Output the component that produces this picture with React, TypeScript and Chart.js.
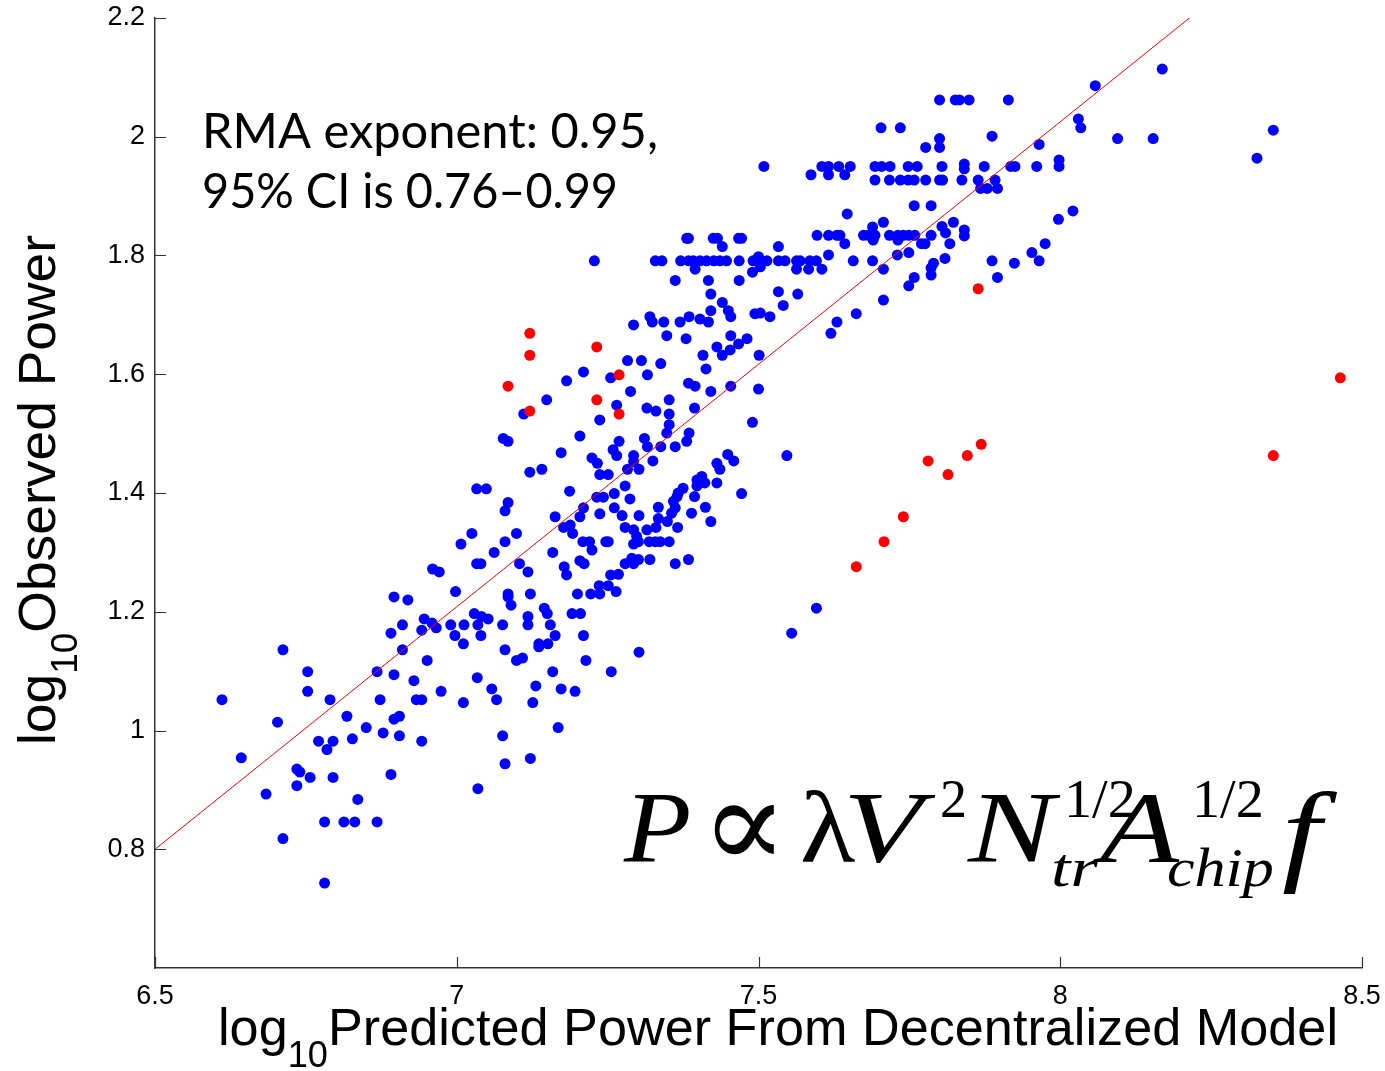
import React, { useEffect, useRef } from 'react';
import { Chart, registerables } from 'chart.js';

Chart.register(...registerables);

// ---- axis ticks ----
const xTicks = [6.5, 7, 7.5, 8, 8.5];
const xTickLabels = ['6.5', '7', '7.5', '8', '8.5'];
const yTicks = [0.8, 1, 1.2, 1.4, 1.6, 1.8, 2, 2.2];
const yTickLabels = ['0.8', '1', '1.2', '1.4', '1.6', '1.8', '2', '2.2'];

// ---- RMA fit line (endpoints) ----
const fitX = [6.5, 8.214];
const fitY = [0.8, 2.2];

// ---- red (outlier) chips ----
const redPoints: [number, number][] = [
  [7.121, 1.669], [7.121, 1.632], [7.085, 1.58], [7.121, 1.538], [7.232, 1.646], [7.269, 1.599],
  [7.232, 1.557], [7.269, 1.533], [7.864, 1.744], [8.464, 1.594], [8.353, 1.463], [7.869, 1.482],
  [7.846, 1.463], [7.781, 1.454], [7.814, 1.431], [7.74, 1.36], [7.708, 1.318], [7.662, 1.276],
];

// ---- blue chips, grouped by region ----
const blueLow: [number, number][] = [
  [6.611, 1.052], [6.712, 1.136], [6.753, 1.099], [6.753, 1.066], [6.703, 1.014], [6.643, 0.954],
  [6.684, 0.893], [6.712, 0.818], [6.781, 0.743], [6.735, 0.935], [6.74, 0.93], [6.757, 0.921],
  [6.735, 0.907], [6.771, 0.982], [6.795, 0.982], [6.785, 0.968], [6.79, 1.052], [6.818, 1.024],
  [6.827, 0.986], [6.795, 0.921], [6.836, 0.884], [6.781, 0.846], [6.813, 0.846], [6.831, 0.846],
  [6.868, 0.846], [6.85, 1.005], [6.873, 1.052], [6.868, 1.099], [6.891, 1.164], [6.91, 1.178],
  [6.91, 1.136], [6.896, 1.094], [6.929, 1.084], [6.933, 1.052], [6.942, 1.052], [6.896, 1.019],
  [6.905, 1.024], [6.878, 0.996], [6.905, 0.991], [6.942, 0.982], [6.891, 0.926], [6.951, 1.118],
  [6.974, 1.066], [6.942, 1.169], [6.959, 1.181], [6.966, 1.173], [6.99, 1.178], [6.997, 1.16],
];

const blueMidLow: [number, number][] = [
  [7.077, 1.492], [7.085, 1.487], [7.204, 1.496], [7.237, 1.523], [7.173, 1.468], [7.121, 1.435],
  [7.141, 1.44], [7.224, 1.459], [7.233, 1.45], [7.237, 1.431], [7.251, 1.431], [7.259, 1.473],
  [7.269, 1.487], [7.033, 1.407], [7.049, 1.407], [7.085, 1.384], [7.08, 1.37], [7.187, 1.403],
  [7.232, 1.393], [7.243, 1.393], [7.261, 1.399], [7.21, 1.375], [7.204, 1.36], [7.237, 1.365],
  [7.261, 1.375], [7.163, 1.36], [7.177, 1.342], [7.188, 1.346], [7.192, 1.332], [7.025, 1.332],
  [7.007, 1.314], [7.08, 1.318], [7.099, 1.332], [7.062, 1.3], [7.033, 1.281], [7.04, 1.281],
  [7.104, 1.281], [7.118, 1.267], [7.159, 1.3], [7.209, 1.318], [7.22, 1.318], [7.224, 1.304],
  [7.247, 1.318], [7.251, 1.318], [7.204, 1.286], [7.211, 1.281], [7.178, 1.276], [7.182, 1.262],
  [7.255, 1.262], [7.268, 1.263], [6.96, 1.272], [6.971, 1.267], [6.998, 1.234], [6.896, 1.225],
  [6.919, 1.22], [7.085, 1.23], [7.085, 1.225], [7.09, 1.211], [7.122, 1.23], [7.2, 1.23],
  [7.222, 1.23], [7.237, 1.23], [7.236, 1.244], [7.251, 1.244], [7.264, 1.234], [7.145, 1.206],
  [7.15, 1.197], [7.191, 1.197], [7.205, 1.197], [7.118, 1.192], [7.118, 1.178], [7.029, 1.197],
  [7.041, 1.192], [7.052, 1.188], [7.035, 1.178], [7.076, 1.178], [7.155, 1.178], [6.946, 1.188],
  [7.012, 1.178], [7.011, 1.146], [7.04, 1.16], [7.163, 1.16], [7.21, 1.16], [7.136, 1.146],
  [7.136, 1.141], [7.151, 1.146], [7.08, 1.136], [7.099, 1.118], [7.109, 1.122], [7.214, 1.118],
  [7.034, 1.089], [7.159, 1.099], [7.256, 1.099], [7.058, 1.07], [7.131, 1.075], [7.173, 1.07],
  [7.196, 1.066], [7.011, 1.047], [7.066, 1.052], [7.126, 1.047],
  [7.279, 1.281], [7.293, 1.281], [7.301, 1.288], [7.32, 1.288], [7.362, 1.281], [7.384, 1.288],
  [7.302, 1.132], [7.168, 1.005], [7.076, 0.991], [7.08, 0.944], [7.122, 0.953], [7.035, 0.902],
  [7.29, 1.29],
];

const blueMid: [number, number][] = [
  [7.265, 1.548], [7.315, 1.543], [7.33, 1.538], [7.352, 1.557], [7.352, 1.533], [7.352, 1.515],
  [7.394, 1.543], [7.49, 1.519], [7.547, 1.463], [7.265, 1.463], [7.311, 1.492], [7.316, 1.478],
  [7.348, 1.501], [7.338, 1.478], [7.362, 1.478], [7.385, 1.501], [7.381, 1.487], [7.293, 1.463],
  [7.293, 1.453], [7.283, 1.44], [7.302, 1.44], [7.325, 1.454], [7.279, 1.412], [7.287, 1.39],
  [7.274, 1.362], [7.302, 1.362], [7.334, 1.376], [7.334, 1.357], [7.349, 1.352], [7.33, 1.342],
  [7.315, 1.338], [7.279, 1.342], [7.293, 1.338], [7.298, 1.327], [7.301, 1.318], [7.293, 1.314],
  [7.319, 1.318], [7.329, 1.318], [7.337, 1.318], [7.352, 1.318], [7.366, 1.342], [7.356, 1.366],
  [7.362, 1.375], [7.359, 1.386], [7.365, 1.394], [7.367, 1.4], [7.375, 1.408], [7.394, 1.394],
  [7.389, 1.366], [7.412, 1.376], [7.421, 1.352], [7.398, 1.422], [7.406, 1.428], [7.411, 1.417],
  [7.398, 1.412], [7.431, 1.45], [7.436, 1.44], [7.431, 1.417], [7.449, 1.465], [7.459, 1.454],
  [7.472, 1.399],
];

const blueMidHigh: [number, number][] = [
  [7.228, 1.791], [7.381, 1.829], [7.384, 1.829], [7.425, 1.829], [7.432, 1.829], [7.44, 1.815],
  [7.467, 1.829], [7.472, 1.829],
  [7.329, 1.791], [7.34, 1.791], [7.371, 1.791], [7.384, 1.791], [7.392, 1.791], [7.403, 1.791],
  [7.414, 1.791], [7.426, 1.791], [7.436, 1.791], [7.447, 1.791], [7.468, 1.791], [7.491, 1.791],
  [7.503, 1.791], [7.514, 1.791], [7.533, 1.791], [7.544, 1.791], [7.563, 1.791], [7.569, 1.791],
  [7.585, 1.791], [7.596, 1.791],
  [7.5, 1.798], [7.395, 1.777], [7.49, 1.772], [7.503, 1.781], [7.362, 1.758], [7.417, 1.758],
  [7.468, 1.758], [7.421, 1.735], [7.44, 1.721], [7.45, 1.707], [7.454, 1.697], [7.421, 1.707],
  [7.494, 1.702], [7.32, 1.697], [7.324, 1.688], [7.343, 1.688], [7.293, 1.683], [7.37, 1.688],
  [7.385, 1.697], [7.403, 1.693], [7.417, 1.688], [7.348, 1.665], [7.38, 1.66], [7.454, 1.665],
  [7.481, 1.66], [7.467, 1.651], [7.453, 1.641], [7.44, 1.632], [7.431, 1.646], [7.408, 1.632],
  [7.413, 1.609], [7.501, 1.632], [7.283, 1.623], [7.306, 1.623], [7.338, 1.618], [7.316, 1.599],
  [7.255, 1.594], [7.21, 1.604], [7.182, 1.589], [7.149, 1.557], [7.111, 1.533], [7.288, 1.571],
  [7.384, 1.585], [7.395, 1.58], [7.421, 1.571], [7.454, 1.58], [7.5, 1.575],
];

const blueHigh: [number, number][] = [
  [7.8, 2.062], [7.826, 2.062], [7.833, 2.062], [7.849, 2.062], [7.914, 2.062], [7.703, 2.015],
  [7.735, 2.015], [7.887, 2.001], [7.8, 1.997], [7.8, 1.982], [7.777, 1.982], [7.965, 1.987],
  [7.509, 1.95], [7.605, 1.95], [7.616, 1.95], [7.633, 1.95], [7.652, 1.95], [7.693, 1.95],
  [7.704, 1.95], [7.718, 1.95], [7.748, 1.95], [7.763, 1.95], [7.804, 1.95], [7.841, 1.954],
  [7.841, 1.946], [7.874, 1.95], [7.918, 1.95], [7.925, 1.95], [7.961, 1.95], [7.998, 1.961],
  [7.998, 1.95],
  [7.587, 1.936], [7.616, 1.936], [7.643, 1.936],
  [7.693, 1.927], [7.717, 1.927], [7.735, 1.927], [7.748, 1.927], [7.758, 1.927], [7.777, 1.927],
  [7.8, 1.927], [7.805, 1.927], [7.837, 1.927], [7.864, 1.927], [7.892, 1.927],
  [7.868, 1.913], [7.879, 1.913], [7.896, 1.913], [7.758, 1.884], [7.786, 1.884], [7.647, 1.87],
  [7.997, 1.861], [7.707, 1.856], [7.689, 1.848], [7.823, 1.856], [7.804, 1.849], [7.81, 1.838],
  [7.841, 1.843], [7.841, 1.833],
  [7.597, 1.834], [7.616, 1.834], [7.63, 1.834], [7.635, 1.834], [7.674, 1.834], [7.682, 1.834],
  [7.693, 1.834], [7.717, 1.834], [7.731, 1.834], [7.74, 1.834], [7.749, 1.834], [7.759, 1.834],
  [7.786, 1.834],
  [7.643, 1.82], [7.69, 1.826], [7.731, 1.826], [7.77, 1.82], [7.776, 1.82], [7.817, 1.82],
  [7.975, 1.82], [7.953, 1.805], [7.965, 1.791], [7.533, 1.815], [7.563, 1.777], [7.583, 1.777],
  [7.605, 1.777], [7.616, 1.801], [7.657, 1.791], [7.689, 1.791], [7.707, 1.777], [7.73, 1.801],
  [7.749, 1.805], [7.79, 1.787], [7.786, 1.779], [7.786, 1.767], [7.809, 1.795], [7.887, 1.791],
  [7.924, 1.787], [7.896, 1.763], [7.758, 1.763], [7.749, 1.749], [7.533, 1.739], [7.565, 1.735],
  [7.541, 1.716], [7.707, 1.725], [7.662, 1.702], [8.169, 2.114], [8.058, 2.086], [8.03, 2.03],
  [8.034, 2.015], [8.095, 1.997], [8.154, 1.997], [8.353, 2.011], [8.326, 1.964], [8.021, 1.875],
  [7.503, 1.703], [7.519, 1.697], [7.63, 1.688], [7.62, 1.669], [7.596, 1.206], [7.555, 1.164],
];

const bluePoints = [...blueLow, ...blueMidLow, ...blueMid, ...blueMidHigh, ...blueHigh];

type Seg = { text: string; font: string; dy: number };

function drawSegs(ctx: CanvasRenderingContext2D, segs: Seg[], x: number, y: number, targetWidth: number) {
  let total = 0;
  const widths = segs.map((s) => {
    ctx.font = s.font;
    const w = ctx.measureText(s.text).width;
    total += w;
    return w;
  });
  const k = targetWidth / total;
  ctx.save();
  ctx.translate(x, y);
  ctx.scale(k, 1);
  let cx = 0;
  segs.forEach((s, i) => {
    ctx.font = s.font;
    ctx.fillText(s.text, cx, s.dy);
    cx += widths[i];
  });
  ctx.restore();
}

const SANS = '"Liberation Sans", Arial, sans-serif';
const SERIF = '"Liberation Serif", "DejaVu Serif", serif';

const overlayPlugin = {
  id: 'overlay',
  afterDraw(chart: any) {
    const { ctx, chartArea, scales } = chart;
    const xs = scales.x;
    const ys = scales.y;
    ctx.save();
    // inward tick marks
    ctx.strokeStyle = '#333';
    ctx.lineWidth = 1.2;
    ctx.beginPath();
    xTicks.forEach((v) => {
      const px = Math.round(xs.getPixelForValue(v)) + 0.5;
      ctx.moveTo(px, chartArea.bottom);
      ctx.lineTo(px, chartArea.bottom - 11);
    });
    yTicks.forEach((v) => {
      const py = Math.round(ys.getPixelForValue(v)) + 0.5;
      ctx.moveTo(chartArea.left, py);
      ctx.lineTo(chartArea.left + 11, py);
    });
    ctx.stroke();

    ctx.fillStyle = '#000';
    ctx.textAlign = 'left';
    ctx.textBaseline = 'alphabetic';

    // x title
    drawSegs(
      ctx,
      [
        { text: 'log', font: `52px ${SANS}`, dy: 0 },
        { text: '10', font: `36px ${SANS}`, dy: 22 },
        { text: 'Predicted Power From Decentralized Model', font: `52px ${SANS}`, dy: 0 },
      ],
      218,
      1045,
      1120
    );

    // y title (rotated)
    ctx.save();
    ctx.translate(55, 745);
    ctx.rotate(-Math.PI / 2);
    drawSegs(
      ctx,
      [
        { text: 'log', font: `52px ${SANS}`, dy: 0 },
        { text: '10', font: `36px ${SANS}`, dy: 22 },
        { text: 'Observed Power', font: `52px ${SANS}`, dy: 0 },
      ],
      0,
      0,
      510
    );
    ctx.restore();

    // annotation
    drawSegs(ctx, [{ text: 'RMA exponent: 0.95,', font: `48px Lato, "Open Sans", sans-serif`, dy: 0 }], 202, 148, 456);
    drawSegs(ctx, [{ text: '95% CI is 0.76\u20130.99', font: `48px Lato, "Open Sans", sans-serif`, dy: 0 }], 202, 208, 416);

    // formula
    const bigI = `italic 102px ${SERIF}`;
    const bigR = `102px ${SERIF}`;
    const smI = `italic 54px ${SERIF}`;
    const smR = `54px ${SERIF}`;
    const base = 862;
    const sup = 817;
    const sub = 886;
    const put = (t: string, f: string, x: number, y: number, sx: number) => {
      ctx.save();
      ctx.font = f;
      ctx.translate(x, y);
      ctx.scale(sx, 1);
      ctx.fillText(t, 0, 0);
      ctx.restore();
    };
    put('P', bigI, 624, base, 1.08);
    put('\u221D', `128px "DejaVu Serif", serif`, 701, 868, 1.0);
    put('\u03BB', bigR, 800, base, 1.12);
    put('V', bigI, 843, base, 1.28);
    put('2', smR, 940, sup, 1.0);
    put('N', bigI, 968, base, 1.27);
    put('1/2', smR, 1064, sup, 1.04);
    put('tr', smI, 1051, sub, 1.3);
    put('A', bigI, 1100, base, 1.27);
    put('1/2', smR, 1192, sup, 1.04);
    put('chip', smI, 1167, sub, 1.15);
    put('f', `italic 112px ${SERIF}`, 1282, 870, 1.25);

    ctx.restore();
  },
};

const killPadding = (s: any) => {
  s.paddingTop = 0;
  s.paddingBottom = 0;
  s.paddingLeft = 0;
  s.paddingRight = 0;
};

export default function App() {
  const canvasRef = useRef<HTMLCanvasElement | null>(null);

  useEffect(() => {
    document.body.style.margin = '0';
    const canvas = canvasRef.current;
    if (!canvas) return;
    const chart = new Chart(canvas, {
      type: 'scatter',
      data: {
        datasets: [
          {
            label: 'RMA fit',
            data: fitX.map((x, i) => ({ x, y: fitY[i] })),
            showLine: true,
            borderColor: '#ff0000',
            borderWidth: 1,
            pointRadius: 0,
            fill: false,
            order: 0,
          } as any,
          {
            label: 'red',
            data: redPoints.map(([x, y]) => ({ x, y })),
            backgroundColor: '#ff0000',
            borderColor: '#ff0000',
            borderWidth: 0,
            pointRadius: 5.5,
            order: 1,
          },
          {
            label: 'blue',
            data: bluePoints.map(([x, y]) => ({ x, y })),
            backgroundColor: '#0000ff',
            borderColor: '#0000ff',
            borderWidth: 0,
            pointRadius: 5.5,
            order: 2,
          },
        ],
      },
      options: {
        animation: false,
        responsive: false,
        layout: { padding: { left: 0, right: 23, top: 18, bottom: 0 } },
        plugins: { legend: { display: false }, tooltip: { enabled: false } },
        scales: {
          x: {
            type: 'linear',
            min: 6.5,
            max: 8.5,
            afterBuildTicks: (s: any) => {
              s.ticks = xTicks.map((v) => ({ value: v }));
            },
            afterFit: (s: any) => {
              s.height = 103;
              killPadding(s);
            },
            ticks: {
              autoSkip: false,
              maxRotation: 0,
              padding: 12,
              color: '#000',
              font: { family: SANS, size: 27 },
              callback: (v: any) => {
                const i = xTicks.indexOf(Number(v));
                return i >= 0 ? xTickLabels[i] : '';
              },
            },
            grid: { display: false, drawTicks: false, tickLength: 0 },
            border: { display: true, color: '#333', width: 1.5 },
          },
          y: {
            type: 'linear',
            min: 0.6,
            max: 2.2,
            afterBuildTicks: (s: any) => {
              s.ticks = yTicks.map((v) => ({ value: v }));
            },
            afterFit: (s: any) => {
              s.width = 155;
              killPadding(s);
            },
            ticks: {
              autoSkip: false,
              padding: 10,
              color: '#000',
              font: { family: SANS, size: 27 },
              callback: (v: any) => {
                const i = yTicks.findIndex((t) => Math.abs(t - Number(v)) < 1e-9);
                return i >= 0 ? yTickLabels[i] : '';
              },
            },
            grid: { display: false, drawTicks: false, tickLength: 0 },
            border: { display: true, color: '#333', width: 1.5 },
          },
        },
      },
      plugins: [overlayPlugin],
    } as any);
    return () => chart.destroy();
  }, []);

  return (
    <div style={{ width: 1385, height: 1071, background: '#fff' }}>
      <canvas ref={canvasRef} width={1385} height={1071} style={{ display: 'block' }} />
    </div>
  );
}
